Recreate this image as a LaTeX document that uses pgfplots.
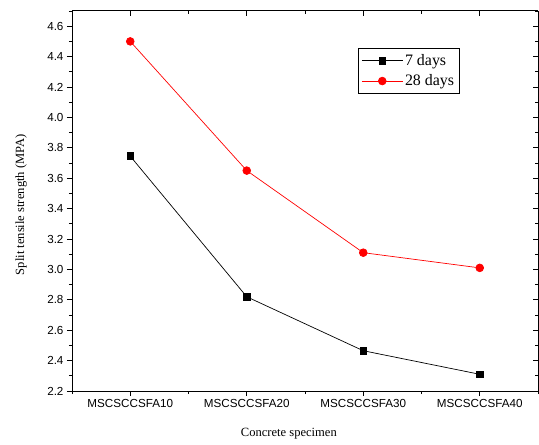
\documentclass[border=0pt]{standalone}
\usepackage{pgfplots}
\pgfplotsset{compat=1.18}
\usepackage{fontspec}
\setmainfont{Liberation Serif}
\newfontfamily\arialf{Liberation Sans}
\pgfplotsset{
  common/.style={
    at={(0,0)}, anchor=south west,
    scale only axis,
    width=466bp, height=380bp,
    xmin=-0.5, xmax=3.5,
    ymin=2.2, ymax=4.7,
    xtick={0,1,2,3},
    minor xtick={-0.5,0.5,1.5,2.5,3.5},
    ytick={2.2,2.4,...,4.61},
    minor ytick={2.3,2.5,...,4.71},
    major tick length=5bp,
    minor tick length=3bp,
    tick style={black, line width=0.9pt},
    axis line style={line width=1pt},
  }
}
\begin{document}
\begin{tikzpicture}
\useasboundingbox (-72bp,-54bp) rectangle (467bp,391bp);
\begin{axis}[
  common,
  axis x line*=top, axis y line*=right,
  tick align=inside,
  xticklabels={}, yticklabels={},
]
\end{axis}
\begin{axis}[
  common,
  axis x line*=bottom, axis y line*=left,
  xticklabels={MSCSCCSFA10,MSCSCCSFA20,MSCSCCSFA30,MSCSCCSFA40},
  yticklabel style={/pgf/number format/.cd,fixed,fixed zerofill,precision=1},
  /pgf/number format/assume math mode=true,
  tick label style={font=\arialf\fontsize{11.7}{13}\selectfont, black},
  tick align=outside,
  xlabel={Concrete specimen},
  ylabel={Split tensile strength (MPA)},
  label style={font=\fontsize{12.6}{14}\selectfont},
  xlabel style={at={(axis description cs:0.4654,-0.1132)}, anchor=center},
  ylabel style={at={(axis description cs:-0.109,0.49)}, anchor=center},
  legend style={at={(0.614,0.903)}, anchor=north west, draw=black, line width=0.8pt,
    font=\fontsize{16}{18}\selectfont, inner xsep=3pt, inner ysep=4pt, row sep=4pt},
  legend cell align=left,
  legend image code/.code={\draw[mark repeat=2,mark phase=2, line width=0.7pt] plot coordinates {(0cm,0cm) (0.72cm,0cm) (1.44cm,0cm)};},
]
\addplot[black, line width=0.7pt, mark=square*, mark size=3.4pt, mark options={solid,fill=black}]
  coordinates {(0,3.745) (1,2.82) (2,2.465) (3,2.31)};
\addlegendentry{7 days}
\addplot[red, line width=0.7pt, mark=*, mark size=3.9pt, mark options={solid,fill=red}]
  coordinates {(0,4.50) (1,3.65) (2,3.11) (3,3.01)};
\addlegendentry{28 days}
\end{axis}
\end{tikzpicture}
\end{document}
